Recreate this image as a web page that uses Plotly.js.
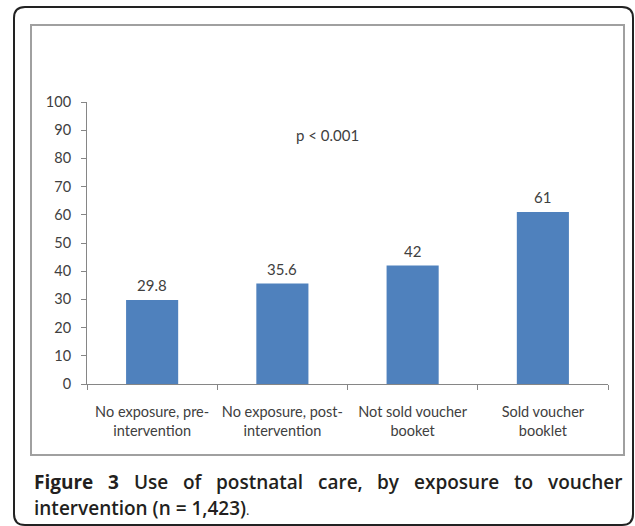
<!DOCTYPE html>
<html>
<head>
<meta charset="utf-8">
<script src="https://cdn.plot.ly/plotly-3.0.1.min.js"></script>
<style>
  html, body { margin: 0; padding: 0; background: #ffffff; }
  #chart { width: 635px; height: 526px; }
</style>
</head>
<body>
<div id="chart"></div>
<script>
// ---- data ----
const categories = [
  "No exposure, pre-<br>intervention",
  "No exposure, post-<br>intervention",
  "Not sold voucher<br>booket",
  "Sold voucher<br>booklet"
];
const values = [29.8, 35.6, 42, 61];
const valueLabels = ["29.8", "35.6", "42", "61"];
const yTicks = [0, 10, 20, 30, 40, 50, 60, 70, 80, 90, 100];
const pNote = "p < 0.001";
const captionLine1 = [
  ["Figure", true], ["3", true], ["Use", false], ["of", false], ["postnatal", false],
  ["care,", false], ["by", false], ["exposure", false], ["to", false], ["voucher", false]
];
const captionLine2 = "intervention (n = 1,423)";

// ---- layout geometry (pixels) ----
const W = 635, H = 526;
const PL = 87, PR = 608, PT = 102, PB = 384;
const pw = PR - PL, ph = PB - PT;
const fx = px => (px - PL) / pw;
const fy = py => (PB - py) / ph;

const chartFont = "Lato, 'Open Sans', sans-serif";
const textGray = "#404040";
const axisGray = "#868686";

// outer rounded frame
const oL = 14, oR = 633, oT = 7, oB = 525, r = 11;
const outerPath =
  `M ${fx(oL + r)} ${fy(oT)} L ${fx(oR - r)} ${fy(oT)} Q ${fx(oR)} ${fy(oT)} ${fx(oR)} ${fy(oT + r)} ` +
  `L ${fx(oR)} ${fy(oB - r)} Q ${fx(oR)} ${fy(oB)} ${fx(oR - r)} ${fy(oB)} ` +
  `L ${fx(oL + r)} ${fy(oB)} Q ${fx(oL)} ${fy(oB)} ${fx(oL)} ${fy(oB - r)} ` +
  `L ${fx(oL)} ${fy(oT + r)} Q ${fx(oL)} ${fy(oT)} ${fx(oL + r)} ${fy(oT)} Z`;

// caption justification via canvas measurement
const capSize = 19;
const capFamily = "'Open Sans', 'Noto Sans', sans-serif";
const capColor = "#231f20";
const ctx = document.createElement("canvas").getContext("2d");
function measure(t, bold) {
  ctx.font = (bold ? "700 " : "600 ") + capSize + "px 'Open Sans'";
  return ctx.measureText(t).width;
}
const capLeft = 32, capRight = 620, cap1Y = 482, cap2Y = 508;
const widths = captionLine1.map(w => measure(w[0], w[1]));
const totalW = widths.reduce((a, b) => a + b, 0);
const gap = (capRight - capLeft - totalW) / (captionLine1.length - 1);

const annotations = [];
let cx = capLeft;
captionLine1.forEach((w, i) => {
  annotations.push({
    xref: "paper", yref: "paper", x: fx(cx), y: fy(cap1Y),
    xanchor: "left", yanchor: "middle", showarrow: false,
    text: w[1] ? "<b>" + w[0] + "</b>" : w[0],
    font: { family: capFamily, size: capSize, color: capColor, weight: 600 }
  });
  cx += widths[i] + gap;
});
annotations.push({
  xref: "paper", yref: "paper", x: fx(capLeft), y: fy(cap2Y),
  xanchor: "left", yanchor: "middle", showarrow: false,
  text: captionLine2 + "<span style='font-size:13px;font-weight:400'>.</span>",
  font: { family: capFamily, size: capSize, color: capColor, weight: 600 }
});
annotations.push({
  xref: "paper", yref: "paper", x: fx(327), y: fy(135),
  xanchor: "center", yanchor: "middle", showarrow: false,
  text: pNote, font: { family: chartFont, size: 15, color: textGray }
});
// value labels above bars
categories.forEach((c, i) => {
  annotations.push({
    xref: "x", yref: "y", x: c, y: values[i],
    xanchor: "center", yanchor: "bottom", yshift: 4, showarrow: false,
    text: valueLabels[i], font: { family: chartFont, size: 15, color: textGray }
  });
});

const trace = {
  type: "bar",
  x: categories,
  y: values,
  marker: { color: "#4f81bd", line: { width: 0 } },
  hoverinfo: "skip"
};

const layout = {
  width: W, height: H,
  margin: { l: PL, r: W - PR, t: PT, b: H - PB, pad: 0 },
  paper_bgcolor: "#ffffff",
  plot_bgcolor: "#ffffff",
  showlegend: false,
  bargap: 0.6,
  font: { family: chartFont, size: 14, color: textGray },
  xaxis: {
    type: "category",
    showline: true, linecolor: axisGray, linewidth: 1,
    ticks: "outside", tickson: "boundaries", ticklen: 5, tickcolor: axisGray,
    showgrid: false, zeroline: false,
    tickangle: 0,
    tickfont: { family: chartFont, size: 14.5, color: textGray },
    ticklabelstandoff: 15
  },
  yaxis: {
    range: [0, 100],
    tickvals: yTicks,
    ticktext: yTicks.map(String),
    showline: true, linecolor: axisGray, linewidth: 1,
    ticks: "outside", ticklen: 5, tickcolor: axisGray,
    showgrid: false, zeroline: false,
    tickfont: { family: chartFont, size: 14.5, color: textGray },
    ticklabelstandoff: 7
  },
  shapes: [
    { type: "rect", xref: "paper", yref: "paper", layer: "below",
      x0: fx(31), x1: fx(624), y0: fy(455), y1: fy(25),
      line: { color: "#a0a0a0", width: 2 }, fillcolor: "rgba(0,0,0,0)" },
    { type: "path", xref: "paper", yref: "paper", layer: "below",
      path: outerPath, line: { color: "#222222", width: 2 }, fillcolor: "rgba(0,0,0,0)" }
  ],
  annotations: annotations
};

Plotly.newPlot("chart", [trace], layout, { displayModeBar: false, staticPlot: true });
</script>
</body>
</html>
